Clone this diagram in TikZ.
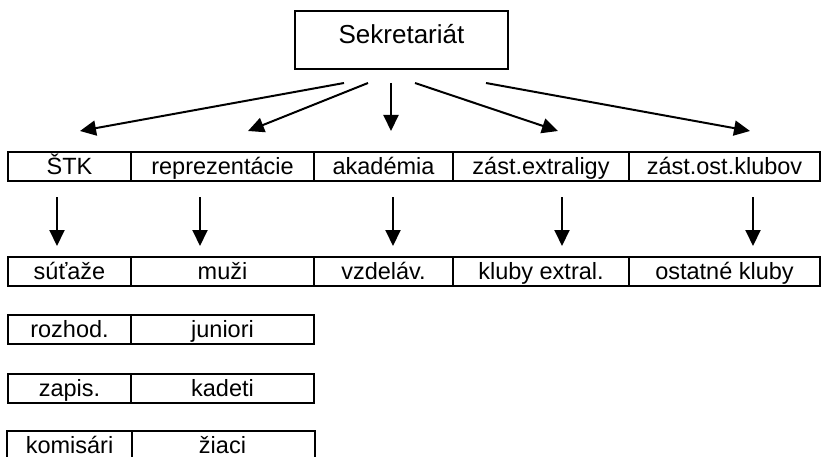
\documentclass[tikz,border=0pt]{standalone}
\usepackage{fontspec}
\setmainfont{Liberation Sans}
\usetikzlibrary{arrows.meta}
\tikzset{
  cell/.style={draw, line width=2pt, inner sep=0pt, minimum height=29pt,
    text height=20pt, text depth=4pt, font=\fontsize{23.5}{28}\selectfont},
  opencell/.style={cell, draw=none, minimum height=25pt, text depth=2pt},
  rule/.style={line width=2pt},
  topbox/.style={draw, line width=1.6pt, inner sep=0pt, minimum width=213pt,
    minimum height=58pt, text height=19pt, text depth=12pt,
    font=\fontsize{26}{30}\selectfont},
  arr/.style={line width=2pt, -{Triangle[length=16pt,width=15pt]}}
}
\begin{document}
\begin{tikzpicture}[x=1pt,y=-1pt]
\useasboundingbox (0,0) rectangle (821,457);
\clip (0,0) rectangle (821,457);
% top box
\node[topbox] (sek) at (401.5,40) {Sekretariát};
% row 1
\node[cell, minimum width=123pt] (r1a) at (69.5,166.5) {ŠTK};
\node[cell, minimum width=183pt] (r1b) at (222.5,166.5) {reprezentácie};
\node[cell, minimum width=139pt] (r1c) at (383.5,166.5) {akadémia};
\node[cell, minimum width=176pt] (r1d) at (541,166.5) {zást.extraligy};
\node[cell, minimum width=191pt] (r1e) at (724.5,166.5) {zást.ost.klubov};
% row 2
\node[cell, minimum width=123pt] (r2a) at (69.5,271.5) {súťaže};
\node[cell, minimum width=183pt] (r2b) at (222.5,271.5) {muži};
\node[cell, minimum width=139pt] (r2c) at (383.5,271.5) {vzdeláv.};
\node[cell, minimum width=176pt] (r2d) at (541,271.5) {kluby extral.};
\node[cell, minimum width=191pt] (r2e) at (724.5,271.5) {ostatné kluby};
% rows 3-4
\node[cell, minimum width=123pt] (r3a) at (69.5,329.5) {rozhod.};
\node[cell, minimum width=183pt] (r3b) at (222.5,329.5) {juniori};
\node[cell, minimum width=123pt] (r4a) at (69.5,388) {zapis.};
\node[cell, minimum width=183pt] (r4b) at (222.5,388) {kadeti};
% row 5 (cut by the lower edge)
\node[opencell, minimum width=123pt] (r5a) at (69.5,444.5) {komisári};
\node[opencell, minimum width=183pt] (r5b) at (222.5,444.5) {žiaci};
\draw[rule] (r5a.south west) -- (r5a.north west) -- (r5b.north east) -- (r5b.south east);
\draw[rule] (r5a.north east) -- (r5a.south east);
% arrow end points
\coordinate (s1) at (344,83);  \coordinate (t1) at (80,131);
\coordinate (s2) at (368,83);  \coordinate (t2) at (248,131);
\coordinate (s3) at (391,83);  \coordinate (t3) at (391,131);
\coordinate (s4) at (415,83);  \coordinate (t4) at (558,131);
\coordinate (s5) at (486,83);  \coordinate (t5) at (750,131);
\draw[arr] (s1) -- (t1);
\draw[arr] (s2) -- (t2);
\draw[arr] (s3) -- (t3);
\draw[arr] (s4) -- (t4);
\draw[arr] (s5) -- (t5);
% vertical arrows
\coordinate (v1) at (57,197);  \coordinate (w1) at (57,246);
\coordinate (v2) at (200,197); \coordinate (w2) at (200,246);
\coordinate (v3) at (393,197); \coordinate (w3) at (393,246);
\coordinate (v4) at (562,197); \coordinate (w4) at (562,246);
\coordinate (v5) at (753,197); \coordinate (w5) at (753,246);
\draw[arr] (v1) -- (w1);
\draw[arr] (v2) -- (w2);
\draw[arr] (v3) -- (w3);
\draw[arr] (v4) -- (w4);
\draw[arr] (v5) -- (w5);
\end{tikzpicture}
\end{document}
